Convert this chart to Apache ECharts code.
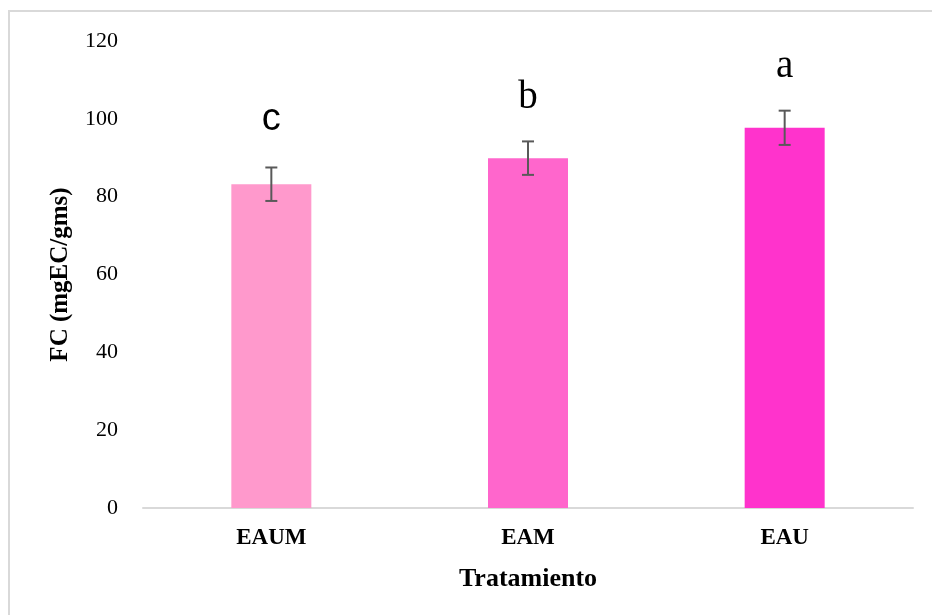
<!DOCTYPE html>
<html>
<head>
<meta charset="utf-8">
<script src="https://cdn.jsdelivr.net/npm/echarts@6/dist/echarts.min.js"></script>
<style>
  html, body { margin: 0; padding: 0; background: #fff; }
  #main { width: 932px; height: 615px; }
</style>
</head>
<body>
<div id="main"></div>
<script>
// data
var categories = ['EAUM', 'EAM', 'EAU'];
var values = [83.2, 89.9, 97.7];
var errors = [4.3, 4.3, 4.4];
var letters = ['c', 'b', 'a'];
var colors = ['#FF99CC', '#FF66CC', '#FF33CC'];
var yTicks = { min: 0, max: 120, interval: 20 };

var chart = echarts.init(document.getElementById('main'));

var barData = values.map(function (v, i) {
  return { value: v, itemStyle: { color: colors[i] } };
});
var errData = values.map(function (v, i) {
  return [i, v - errors[i], v + errors[i]];
});

chart.setOption({
  animation: false,
  backgroundColor: '#fff',
  graphic: [{
    type: 'rect',
    shape: { x: 9, y: 11, width: 940, height: 620 },
    style: { fill: 'none', stroke: '#d9d9d9', lineWidth: 2 },
    silent: true
  }],
  grid: { left: 143, right: 19, top: 41, bottom: 107 },
  xAxis: {
    type: 'category',
    data: categories,
    name: 'Tratamiento',
    nameLocation: 'middle',
    nameGap: 58,
    nameTextStyle: { fontFamily: 'Liberation Serif', fontWeight: 'bold', fontSize: 26, color: '#000' },
    axisLine: { lineStyle: { color: '#d9d9d9', width: 2 } },
    axisTick: { show: false },
    axisLabel: { fontFamily: 'Liberation Serif', fontWeight: 'bold', fontSize: 23, color: '#000', margin: 19 }
  },
  yAxis: {
    type: 'value',
    min: yTicks.min,
    max: yTicks.max,
    interval: yTicks.interval,
    name: 'FC (mgEC/gms)',
    nameLocation: 'middle',
    nameGap: 70,
    nameTextStyle: { fontFamily: 'Liberation Serif', fontWeight: 'bold', fontSize: 25, color: '#000' },
    axisLine: { show: false },
    axisTick: { show: false },
    splitLine: { show: false },
    axisLabel: { fontFamily: 'Liberation Serif', fontSize: 22, color: '#000', margin: 25 }
  },
  series: [{
    type: 'bar',
    data: barData,
    barWidth: 80
  }, {
    type: 'custom',
    data: errData,
    z: 10,
    renderItem: function (params, api) {
      var lo = api.coord([api.value(0), api.value(1)]);
      var hi = api.coord([api.value(0), api.value(2)]);
      var cap = 6;
      var style = { stroke: '#595959', lineWidth: 2 };
      var letter = letters[params.dataIndex];
      var sans = letter === 'c';
      return {
        type: 'group',
        children: [
          { type: 'line', shape: { x1: hi[0], y1: hi[1], x2: lo[0], y2: lo[1] }, style: style },
          { type: 'line', shape: { x1: hi[0] - cap, y1: hi[1], x2: hi[0] + cap, y2: hi[1] }, style: style },
          { type: 'line', shape: { x1: lo[0] - cap, y1: lo[1], x2: lo[0] + cap, y2: lo[1] }, style: style },
          {
            type: 'text',
            x: hi[0], y: hi[1] - (sans ? 29 : 24),
            style: {
              text: letter,
              fill: '#000',
              fontSize: sans ? 38 : 39,
              fontFamily: sans ? 'Liberation Sans' : 'Liberation Serif',
              align: 'center',
              verticalAlign: 'bottom'
            }
          }
        ]
      };
    }
  }]
});
</script>
</body>
</html>
